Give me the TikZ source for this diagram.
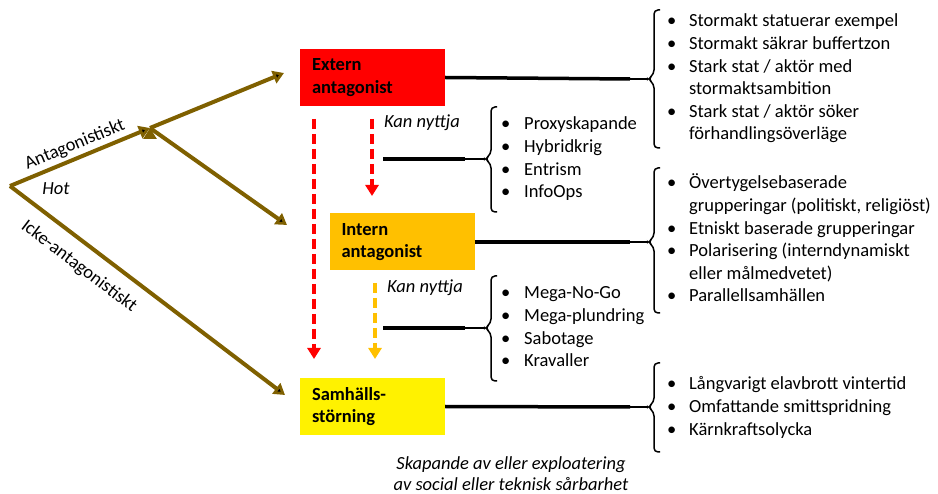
\documentclass[tikz,border=0pt]{standalone}
\usepackage{fontspec}
\setmainfont{Carlito}
\usetikzlibrary{arrows.meta}
\definecolor{hotbrown}{HTML}{7F6000}
\definecolor{intorange}{HTML}{FFC000}
\newcommand{\itm}{\textbullet&}

\begin{document}
\begin{tikzpicture}[x=1pt,y=-1pt,
	font=\fontsize{18.5}{22.6}\selectfont,
	box/.style={minimum width=145pt,minimum height=57pt,inner sep=0pt,text width=121pt,align=left,font=\fontsize{18.5}{22.6}\selectfont\bfseries},
	list/.style={anchor=base west,inner sep=0pt},
	hotarrow/.style={draw=hotbrown,line width=4pt,-{Triangle[width=13pt,length=11pt]}},
	redarrow/.style={draw=red,line width=4pt,dash pattern=on 10pt off 5pt,-{Triangle[width=13pt,length=11pt]}},
	fat/.style={line width=3.5pt},
	brack/.style={line width=1.5pt,rounded corners=4pt}]
\useasboundingbox (0,0) rectangle (938,494);

% boxes
\node[box,fill=red] (ext) at (372.5,77.5) {Extern\\antagonist};
\node[box,fill=intorange] (int) at (402,242) {Intern\\antagonist};
\node[box,fill=yellow] (sam) at (372.5,406.5) {Samhälls-\\störning};

% threat tree
\coordinate (root) at (10,186);
\coordinate (split) at (150,128);
\coordinate (ext-in) at (284,73);
\coordinate (int-in) at (287,225);
\coordinate (sam-in) at (285,395);
\path[hotarrow]
(root) edge node [above,sloped] {Antagonistiskt} (split)
edge node [below=9pt,sloped,pos=0.3] {Icke-antagonistiskt} (sam-in)
(split) edge (ext-in)
edge (int-in);
\node (hot) at (56,189) {\itshape Hot};

% dashed arrows
\coordinate (r1) at (314,119);
\coordinate (r1e) at (314,359);
\coordinate (r2) at (372,119);
\coordinate (r2e) at (372,196);
\coordinate (o1) at (375,283);
\coordinate (o1e) at (375,359);
\draw[redarrow] (r1) -- (r1e);
\draw[redarrow] (r2) -- (r2e);
\draw[redarrow,draw=intorange] (o1) -- (o1e);
\node[anchor=west,inner sep=0pt] (kan1) at (384,123) {\itshape Kan nyttja};
\node[anchor=west,inner sep=0pt] (kan2) at (387,288) {\itshape Kan nyttja};

% brackets
\foreach \x/\t/\m/\b/\n in {654/10/79/148/bx, 654/168/242/313/bi, 654/363/407/452/bs, 491/107/159/212/bka, 491/276/328/381/bkb}{
	\draw[brack] (\x+6,\t) -- (\x,\t) -- (\x,\m-5) -- (\x-6,\m) -- (\x,\m+5) -- (\x,\b) -- (\x+6,\b);
	\coordinate (\n) at (\x-6,\m);
}

% connectors
\draw[fat] (ext.east) -- (630,79) coordinate (e1);
\draw[line width=1.5pt] (e1) -- (bx);
\draw[fat] (int.east) -- (630,242) coordinate (e2);
\draw[line width=1.5pt] (e2) -- (bi);
\draw[fat] (sam.east) -- (630,407) coordinate (e3);
\draw[line width=1.5pt] (e3) -- (bs);
\draw[fat] (383,159) coordinate (k1) -- (465,159) coordinate (k1e);
\draw[line width=1.5pt] (k1e) -- (bka);
\draw[fat] (383,328) coordinate (k2) -- (465,328) coordinate (k2e);
\draw[line width=1.5pt] (k2e) -- (bkb);

% lists
\node[list] (lx) at (667,27) {\begin{tabular}[t]{@{}p{22pt}@{}l@{}}
\itm Stormakt statuerar exempel\\
\itm Stormakt säkrar buffertzon\\
\itm Stark stat / aktör med\\
& stormaktsambition\\
\itm Stark stat / aktör söker\\
& förhandlingsöverläge
\end{tabular}};
\node[list] (li) at (667,189) {\begin{tabular}[t]{@{}p{22pt}@{}l@{}}
\itm Övertygelsebaserade\\
& grupperingar (politiskt, religiöst)\\
\itm Etniskt baserade grupperingar\\
\itm Polarisering (interndynamiskt\\
& eller målmedvetet)\\
\itm Parallellsamhällen
\end{tabular}};
\node[list] (ls) at (667,390) {\begin{tabular}[t]{@{}p{22pt}@{}l@{}}
\itm Långvarigt elavbrott vintertid\\
\itm Omfattande smittspridning\\
\itm Kärnkraftsolycka
\end{tabular}};
\node[list] (lka) at (501,130) {\begin{tabular}[t]{@{}p{23pt}@{}l@{}}
\itm Proxyskapande\\
\itm Hybridkrig\\
\itm Entrism\\
\itm InfoOps
\end{tabular}};
\node[list] (lkb) at (501,299) {\begin{tabular}[t]{@{}p{23pt}@{}l@{}}
\itm Mega-No-Go\\
\itm Mega-plundring\\
\itm Sabotage\\
\itm Kravaller
\end{tabular}};

\node[align=center,font=\fontsize{18.5}{21}\selectfont\itshape] (cap) at (511,474) {Skapande av eller exploatering\\av social eller teknisk sårbarhet};
\end{tikzpicture}
\end{document}
